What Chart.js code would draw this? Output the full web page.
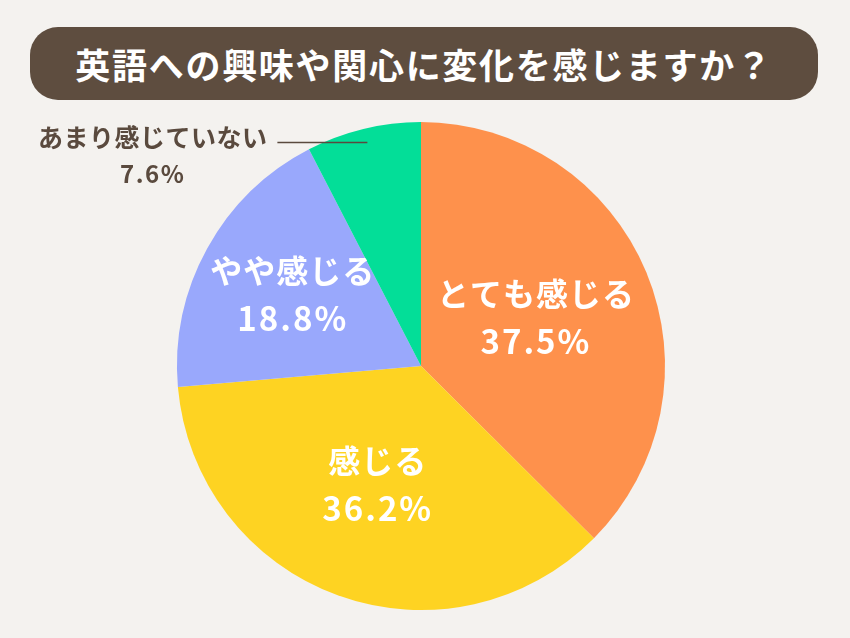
<!DOCTYPE html>
<html lang="ja">
<head>
<meta charset="utf-8">
<script src="https://cdn.jsdelivr.net/npm/chart.js@4"></script>
<style>
  html, body { margin: 0; padding: 0; background: #f4f2ef; }
  #wrap { position: relative; width: 850px; height: 638px; overflow: hidden; }
  #title {
    position: absolute; left: 30px; top: 27px; width: 788px; height: 73px;
    background: #5e4d3f; border-radius: 28px; color: #fff;
    font-family: "Noto Sans CJK JP", sans-serif; font-weight: 700;
    font-size: 35px; line-height: 73px; text-align: center; letter-spacing: 1.7px;
  }
  #chart { position: absolute; left: 0; top: 0; }
</style>
</head>
<body>
<div id="wrap">
  <canvas id="chart" width="850" height="638"></canvas>
  <div id="title">英語への興味や関心に変化を感じますか？</div>
</div>
<script>
// answers, clockwise from 12 o'clock
const categories = ['とても感じる', '感じる', 'やや感じる', 'あまり感じていない'];
const percents = [37.5, 36.2, 18.8, 7.6];
const sliceColors = ['#fe914c', '#fed322', '#99a8fc', '#03de98'];

// how far out the inside labels sit (fraction of radius); null = label outside
const labelRadius = [0.51, 0.52, 0.6, null];

const FONT = '"Noto Sans CJK JP", sans-serif';

const sliceLabels = {
  id: 'sliceLabels',
  afterDatasetsDraw(chart) {
    const ctx = chart.ctx;
    const arcs = chart.getDatasetMeta(0).data;
    ctx.save();
    arcs.forEach((arc, i) => {
      const { x, y, startAngle, endAngle, outerRadius } = arc.getProps(
        ['x', 'y', 'startAngle', 'endAngle', 'outerRadius'], true);
      const mid = (startAngle + endAngle) / 2;
      const pct = percents[i].toFixed(1) + '%';
      if (labelRadius[i] != null) {
        const r = outerRadius * labelRadius[i];
        const lx = x + Math.cos(mid) * r;
        const ly = y + Math.sin(mid) * r;
        ctx.fillStyle = '#fff';
        ctx.textAlign = 'center';
        ctx.textBaseline = 'middle';
        ctx.letterSpacing = '1px';
        ctx.font = `700 32px ${FONT}`;
        ctx.fillText(categories[i], lx, ly - 24);
        ctx.letterSpacing = '2px';
        ctx.font = `700 33px ${FONT}`;
        ctx.fillText(pct, lx, ly + 23);
      } else {
        // small slice: leader line out to the left
        const sx = x + Math.cos(mid) * outerRadius * 0.93;
        const sy = y + Math.sin(mid) * outerRadius * 0.93 - 3;
        const ex = sx - 90;
        ctx.strokeStyle = '#5a4a3e';
        ctx.lineWidth = 1.5;
        ctx.beginPath();
        ctx.moveTo(sx, sy);
        ctx.lineTo(ex, sy);
        ctx.stroke();
        ctx.fillStyle = '#5a4a3e';
        ctx.textBaseline = 'middle';
        ctx.letterSpacing = '0.5px';
        ctx.font = `700 25px ${FONT}`;
        ctx.textAlign = 'right';
        const tx = ex - 10;
        ctx.fillText(categories[i], tx, sy - 5);
        const w = ctx.measureText(categories[i]).width;
        ctx.textAlign = 'center';
        ctx.letterSpacing = '1.5px';
        ctx.font = `700 24px ${FONT}`;
        ctx.fillText(pct, tx - w / 2, sy + 31);
      }
    });
    ctx.restore();
  }
};

new Chart(document.getElementById('chart'), {
  type: 'pie',
  data: {
    labels: categories,
    datasets: [{
      data: percents,
      backgroundColor: sliceColors,
      borderWidth: 0,
    }],
  },
  options: {
    responsive: false,
    animation: false,
    layout: { padding: { left: 177, right: 185, top: 122, bottom: 28 } },
    plugins: {
      legend: { display: false },
      tooltip: { enabled: false },
    },
  },
  plugins: [sliceLabels],
});
</script>
</body>
</html>
